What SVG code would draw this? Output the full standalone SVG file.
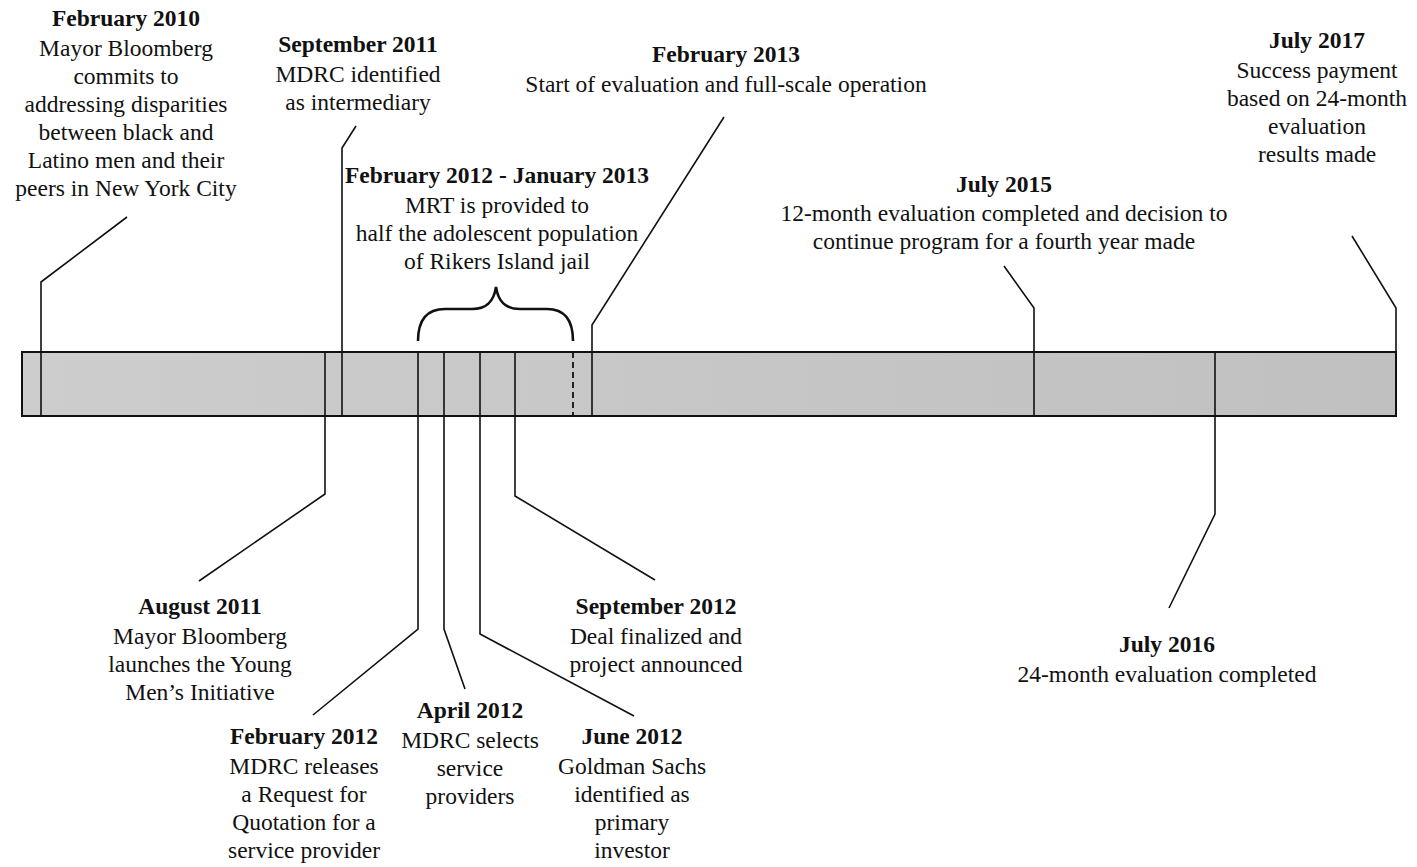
<svg xmlns="http://www.w3.org/2000/svg" width="1417" height="867" viewBox="0 0 1417 867">
<defs>
<linearGradient id="barfill" x1="0" y1="0" x2="1" y2="0">
<stop offset="0" stop-color="#cdcdcd"/>
<stop offset="1" stop-color="#c0c0c0"/>
</linearGradient>
<style>
text{font-family:"Liberation Serif","Times New Roman",serif;font-size:23.5px;fill:#111;text-anchor:middle}
.h{font-weight:bold}
.c{fill:none;stroke:#111;stroke-width:1.6}
.t{fill:none;stroke:#111;stroke-width:1.8}
</style>
</defs>
<rect width="1417" height="867" fill="#fff"/>
<g id="bar">
<rect x="22" y="352" width="1374" height="64" fill="url(#barfill)" stroke="#111" stroke-width="2"/>
<line x1="573" y1="352" x2="573" y2="416" stroke="#111" stroke-width="1.8" stroke-dasharray="6,4"/>
<path d="M418,341 C418,318 428,309 445,309 L472,309 C488,309 494,300 496,287 C498,300 504,309 520,309 L547,309 C563,309 573,318 573,341" fill="none" stroke="#111" stroke-width="2.6"/>
</g>
<g id="connectors">
<polyline class="c" points="127,217 41,282 41,416"/>
<polyline class="c" points="356,126 342,148 342,416"/>
<polyline class="c" points="325,352 325,494 199,581"/>
<polyline class="c" points="418,352 418,629 313,715"/>
<polyline class="c" points="444,352 444,629 465,689"/>
<polyline class="c" points="480,352 480,634 634,716"/>
<polyline class="c" points="515,352 515,496 655,580"/>
<polyline class="c" points="724,117 592,325 592,416"/>
<polyline class="c" points="1004,266 1034,308 1034,416"/>
<polyline class="c" points="1215,352 1215,514 1169,608"/>
<polyline class="c" points="1352,236 1396,308 1396,352"/>
</g>
<g id="feb2010">
<text class="h" x="126" y="26">February 2010</text>
<text x="126" y="56">Mayor Bloomberg</text>
<text x="126" y="84">commits to</text>
<text x="126" y="112">addressing disparities</text>
<text x="126" y="140">between black and</text>
<text x="126" y="168">Latino men and their</text>
<text x="126" y="196">peers in New York City</text>
</g>
<g id="sep2011">
<text class="h" x="358" y="52">September 2011</text>
<text x="358" y="82">MDRC identified</text>
<text x="358" y="110">as intermediary</text>
</g>
<g id="feb2013">
<text class="h" x="726" y="62">February 2013</text>
<text x="726" y="92">Start of evaluation and full-scale operation</text>
</g>
<g id="feb2012jan2013">
<text class="h" x="497" y="183">February 2012 - January 2013</text>
<text x="497" y="213">MRT is provided to</text>
<text x="497" y="241">half the adolescent population</text>
<text x="497" y="269">of Rikers Island jail</text>
</g>
<g id="jul2015">
<text class="h" x="1004" y="192">July 2015</text>
<text x="1004" y="221">12-month evaluation completed and decision to</text>
<text x="1004" y="249">continue program for a fourth year made</text>
</g>
<g id="jul2017">
<text class="h" x="1317" y="48">July 2017</text>
<text x="1317" y="78">Success payment</text>
<text x="1317" y="106">based on 24-month</text>
<text x="1317" y="134">evaluation</text>
<text x="1317" y="162">results made</text>
</g>
<g id="aug2011">
<text class="h" x="200" y="614">August 2011</text>
<text x="200" y="644">Mayor Bloomberg</text>
<text x="200" y="672">launches the Young</text>
<text x="200" y="700">Men’s Initiative</text>
</g>
<g id="sep2012">
<text class="h" x="656" y="614">September 2012</text>
<text x="656" y="644">Deal finalized and</text>
<text x="656" y="672">project announced</text>
</g>
<g id="feb2012">
<text class="h" x="304" y="744">February 2012</text>
<text x="304" y="774">MDRC releases</text>
<text x="304" y="802">a Request for</text>
<text x="304" y="830">Quotation for a</text>
<text x="304" y="858">service provider</text>
</g>
<g id="apr2012">
<text class="h" x="470" y="718">April 2012</text>
<text x="470" y="748">MDRC selects</text>
<text x="470" y="776">service</text>
<text x="470" y="804">providers</text>
</g>
<g id="jun2012">
<text class="h" x="632" y="744">June 2012</text>
<text x="632" y="774">Goldman Sachs</text>
<text x="632" y="802">identified as</text>
<text x="632" y="830">primary</text>
<text x="632" y="858">investor</text>
</g>
<g id="jul2016">
<text class="h" x="1167" y="652">July 2016</text>
<text x="1167" y="682">24-month evaluation completed</text>
</g>
</svg>
